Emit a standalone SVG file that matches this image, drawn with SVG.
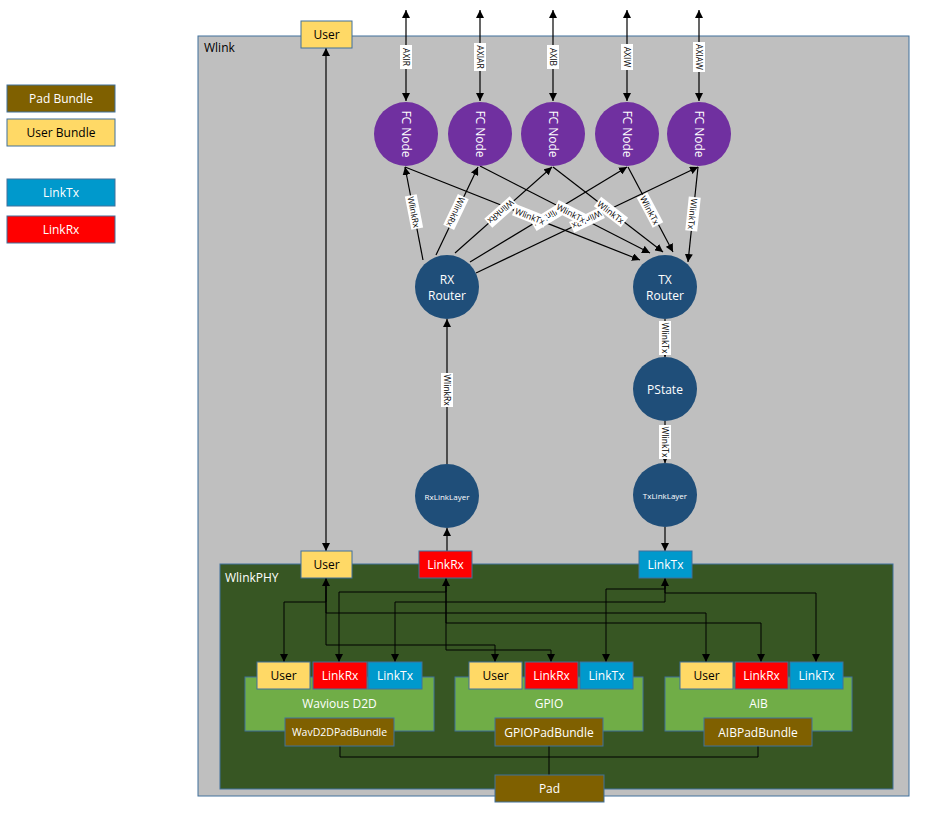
<svg xmlns="http://www.w3.org/2000/svg" width="932" height="818" viewBox="0 0 932 818">
<defs>
<marker id="ah" viewBox="0 0 10 10" refX="10" refY="5" markerWidth="8" markerHeight="8" markerUnits="userSpaceOnUse" orient="auto-start-reverse"><path d="M0,0 L10,5 L0,10 z" fill="#000"/></marker>
<style>
text{font-family:"Open Sans","Liberation Sans",sans-serif;text-anchor:middle;dominant-baseline:central}
.box{stroke:#41719c;stroke-width:1}
.pad{fill:#7f6000}
.usr{fill:#ffd966}
.tx{fill:#0099cc}
.rx{fill:#ff0000}
.w{fill:#fff;font-size:12px}
.b{fill:#000;font-size:12px}
.fc{fill:#7030a0}
.rt{fill:#1f4e79}
.e{stroke:#000;stroke-width:1.2;fill:none}
.lbl{font-size:8.5px;fill:#000}
.lb{fill:#fff}
</style>
</defs>
<rect width="932" height="818" fill="#fff"/>
<g id="legend">
<rect class="box pad" x="7" y="85" width="108" height="27"/><text class="w" x="61" y="98.5">Pad Bundle</text>
<rect class="box usr" x="7" y="119" width="108" height="27"/><text class="b" x="61" y="132.5">User Bundle</text>
<rect class="box tx" x="7" y="179" width="108" height="27"/><text class="w" x="61" y="192.5">LinkTx</text>
<rect class="box rx" x="7" y="216" width="108" height="27"/><text class="w" x="61" y="229.5">LinkRx</text>
</g>
<g id="wlink">
<rect x="198" y="36" width="711" height="760" fill="#bfbfbf" stroke="#41719c"/>
<text x="204" y="47" style="text-anchor:start;font-size:12px" fill="#000">Wlink</text>
</g>
<g id="wlinkphy">
<rect x="220" y="564" width="673" height="225" fill="#375623" stroke="#41719c"/>
<text x="225" y="577" style="text-anchor:start;font-size:12px" fill="#fff">WlinkPHY</text>
</g>
<g id="connectors">
<line class="e" x1="406" y1="10" x2="406" y2="101" marker-start="url(#ah)" marker-end="url(#ah)"/>
<line class="e" x1="480" y1="10" x2="480" y2="101" marker-start="url(#ah)" marker-end="url(#ah)"/>
<line class="e" x1="553" y1="10" x2="553" y2="101" marker-start="url(#ah)" marker-end="url(#ah)"/>
<line class="e" x1="627" y1="10" x2="627" y2="101" marker-start="url(#ah)" marker-end="url(#ah)"/>
<line class="e" x1="699" y1="10" x2="699" y2="101" marker-start="url(#ah)" marker-end="url(#ah)"/>
<line class="e" x1="423" y1="260" x2="405" y2="167" marker-end="url(#ah)"/>
<line class="e" x1="436" y1="255" x2="478" y2="167" marker-end="url(#ah)"/>
<line class="e" x1="455" y1="253" x2="552" y2="167" marker-end="url(#ah)"/>
<line class="e" x1="470" y1="262" x2="627" y2="167" marker-end="url(#ah)"/>
<line class="e" x1="476" y1="273" x2="698" y2="167" marker-end="url(#ah)"/>
<line class="e" x1="405" y1="167" x2="640" y2="260" marker-end="url(#ah)"/>
<line class="e" x1="480" y1="166" x2="650" y2="253" marker-end="url(#ah)"/>
<line class="e" x1="553" y1="167" x2="663" y2="252" marker-end="url(#ah)"/>
<line class="e" x1="628" y1="167" x2="673" y2="252" marker-end="url(#ah)"/>
<line class="e" x1="698" y1="167" x2="688" y2="262" marker-end="url(#ah)"/>
<line class="e" x1="665" y1="319" x2="665" y2="357" marker-end="url(#ah)"/>
<line class="e" x1="665" y1="421" x2="665" y2="463" marker-end="url(#ah)"/>
<line class="e" x1="665" y1="527" x2="665" y2="551" marker-end="url(#ah)"/>
<line class="e" x1="447" y1="464" x2="447" y2="319" marker-end="url(#ah)"/>
<line class="e" x1="447" y1="551" x2="447" y2="528" marker-end="url(#ah)"/>
<line class="e" x1="326" y1="48" x2="326" y2="551" marker-start="url(#ah)" marker-end="url(#ah)"/>
<g stroke="#000" stroke-width="1" fill="none">
<path d="M326,578 V602 H284 V662" marker-start="url(#ah)" marker-end="url(#ah)"/>
<path d="M326,578 V613 H706 V662" marker-end="url(#ah)"/>
<path d="M326,578 V645 H495 V662" marker-end="url(#ah)"/>
<path d="M446,578 V592 H339 V662" marker-start="url(#ah)" marker-end="url(#ah)"/>
<path d="M446,578 V623 H761 V662" marker-end="url(#ah)"/>
<path d="M446,578 V650 H551 V662" marker-end="url(#ah)"/>
<path d="M665,578 V602 H395 V662" marker-start="url(#ah)" marker-end="url(#ah)"/>
<path d="M665,578 V589 H606 V662" marker-end="url(#ah)"/>
<path d="M665,578 V593 H816 V662" marker-end="url(#ah)"/>
<path d="M340,746 V757 H758 V746 M549,746 V775"/>
</g>
</g>
<g id="edge-labels">
<g transform="translate(406,57) rotate(90)"><rect class="lb" x="-12" y="-6" width="24" height="12"/><text class="lbl">AXIR</text></g>
<g transform="translate(480,57) rotate(90)"><rect class="lb" x="-14" y="-6" width="28" height="12"/><text class="lbl">AXIAR</text></g>
<g transform="translate(553,57) rotate(90)"><rect class="lb" x="-12" y="-6" width="24" height="12"/><text class="lbl">AXIB</text></g>
<g transform="translate(627,57) rotate(90)"><rect class="lb" x="-13" y="-6" width="26" height="12"/><text class="lbl">AXIW</text></g>
<g transform="translate(699,57) rotate(90)"><rect class="lb" x="-15" y="-6" width="30" height="12"/><text class="lbl">AXIAW</text></g>
<g transform="translate(414,212) rotate(79)"><rect class="lb" x="-17" y="-6" width="34" height="12"/><text class="lbl">WlinkRx</text></g>
<g transform="translate(456,212) rotate(115.5)"><rect class="lb" x="-17" y="-6" width="34" height="12"/><text class="lbl">WlinkRx</text></g>
<g transform="translate(501,212) rotate(138.4)"><rect class="lb" x="-17" y="-6" width="34" height="12"/><text class="lbl">WlinkRx</text></g>
<g transform="translate(587,220) rotate(154.5)"><rect class="lb" x="-17" y="-6" width="34" height="12"/><text class="lbl">WlinkRx</text></g>
<g transform="translate(548,217) rotate(148.8)"><rect class="lb" x="-17" y="-6" width="34" height="12"/><text class="lbl">WlinkRx</text></g>
<g transform="translate(530,216) rotate(21.6)"><rect class="lb" x="-17" y="-6" width="34" height="12"/><text class="lbl">WlinkTx</text></g>
<g transform="translate(571,213) rotate(27.1)"><rect class="lb" x="-17" y="-6" width="34" height="12"/><text class="lbl">WlinkTx</text></g>
<g transform="translate(611,212) rotate(37.7)"><rect class="lb" x="-17" y="-6" width="34" height="12"/><text class="lbl">WlinkTx</text></g>
<g transform="translate(650,210) rotate(62.1)"><rect class="lb" x="-17" y="-6" width="34" height="12"/><text class="lbl">WlinkTx</text></g>
<g transform="translate(693,214) rotate(96)"><rect class="lb" x="-17" y="-6" width="34" height="12"/><text class="lbl">WlinkTx</text></g>
<g transform="translate(665,338) rotate(90)"><rect class="lb" x="-17" y="-6" width="34" height="12"/><text class="lbl">WlinkTx</text></g>
<g transform="translate(665,442) rotate(90)"><rect class="lb" x="-17" y="-6" width="34" height="12"/><text class="lbl">WlinkTx</text></g>
<g transform="translate(447,390) rotate(90)"><rect class="lb" x="-17" y="-6" width="34" height="12"/><text class="lbl">WlinkRx</text></g>
</g>
<g id="fc1"><circle class="fc" cx="406" cy="134" r="32"/><text class="w" transform="translate(406,134) rotate(90)">FC Node</text></g>
<g id="fc2"><circle class="fc" cx="480" cy="134" r="32"/><text class="w" transform="translate(480,134) rotate(90)">FC Node</text></g>
<g id="fc3"><circle class="fc" cx="553" cy="134" r="32"/><text class="w" transform="translate(553,134) rotate(90)">FC Node</text></g>
<g id="fc4"><circle class="fc" cx="627" cy="134" r="32"/><text class="w" transform="translate(627,134) rotate(90)">FC Node</text></g>
<g id="fc5"><circle class="fc" cx="699" cy="134" r="32"/><text class="w" transform="translate(699,134) rotate(90)">FC Node</text></g>
<g id="rxrouter"><circle class="rt" cx="447" cy="287" r="32"/><text class="w" x="447" y="279">RX</text><text class="w" x="447" y="295">Router</text></g>
<g id="txrouter"><circle class="rt" cx="665" cy="287" r="32"/><text class="w" x="665" y="279">TX</text><text class="w" x="665" y="295">Router</text></g>
<g id="pstate"><circle class="rt" cx="665" cy="389" r="32"/><text class="w" x="665" y="389">PState</text></g>
<g id="rxlinklayer"><circle class="rt" cx="447" cy="496" r="32"/><text x="447" y="496" fill="#fff" font-size="8">RxLinkLayer</text></g>
<g id="txlinklayer"><circle class="rt" cx="665" cy="495" r="32"/><text x="665" y="495" fill="#fff" font-size="8">TxLinkLayer</text></g>
<g id="user-top"><rect class="box usr" x="301" y="21" width="51" height="27"/><text class="b" x="326.5" y="34.5">User</text></g>
<g id="user-phy"><rect class="box usr" x="301" y="551" width="51" height="27"/><text class="b" x="326.5" y="564.5">User</text></g>
<g id="linkrx-phy"><rect class="box rx" x="419" y="551" width="53" height="27"/><text class="w" x="445.5" y="564.5">LinkRx</text></g>
<g id="linktx-phy"><rect class="box tx" x="639" y="551" width="53" height="27"/><text class="w" x="665.5" y="564.5">LinkTx</text></g>
<g id="wavious">
<rect class="box" x="245" y="677" width="189" height="54" fill="#70ad47"/><text class="w" x="339.5" y="703">Wavious D2D</text>
<rect class="box usr" x="257" y="662" width="53" height="27"/><text class="b" x="283.5" y="675.5">User</text>
<rect class="box rx" x="313" y="662" width="54" height="27"/><text class="w" x="340" y="675.5">LinkRx</text>
<rect class="box tx" x="368" y="662" width="54" height="27"/><text class="w" x="395" y="675.5">LinkTx</text>
<rect class="box pad" x="285" y="718" width="109" height="28"/><text x="339.5" y="732" fill="#fff" font-size="10.5">WavD2DPadBundle</text>
</g>
<g id="gpio">
<rect class="box" x="455" y="677" width="188" height="54" fill="#70ad47"/><text class="w" x="549" y="703">GPIO</text>
<rect class="box usr" x="469" y="662" width="53" height="27"/><text class="b" x="495.5" y="675.5">User</text>
<rect class="box rx" x="525" y="662" width="53" height="27"/><text class="w" x="551.5" y="675.5">LinkRx</text>
<rect class="box tx" x="580" y="662" width="53" height="27"/><text class="w" x="606.5" y="675.5">LinkTx</text>
<rect class="box pad" x="495" y="718" width="108" height="28"/><text class="w" x="549" y="732">GPIOPadBundle</text>
</g>
<g id="aib">
<rect class="box" x="665" y="677" width="187" height="54" fill="#70ad47"/><text class="w" x="758.5" y="703">AIB</text>
<rect class="box usr" x="680" y="662" width="53" height="27"/><text class="b" x="706.5" y="675.5">User</text>
<rect class="box rx" x="735" y="662" width="53" height="27"/><text class="w" x="761.5" y="675.5">LinkRx</text>
<rect class="box tx" x="790" y="662" width="53" height="27"/><text class="w" x="816.5" y="675.5">LinkTx</text>
<rect class="box pad" x="704" y="718" width="108" height="28"/><text class="w" x="758" y="732">AIBPadBundle</text>
</g>
<g id="pad"><rect class="box pad" x="495" y="775" width="109" height="27"/><text class="w" x="549.5" y="788.5">Pad</text></g>
</svg>
